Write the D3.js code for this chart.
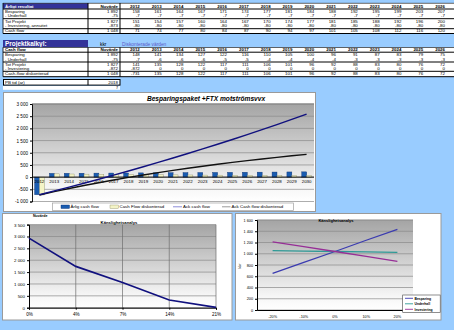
<!DOCTYPE html>
<html><head><meta charset="utf-8">
<script src="https://cdn.jsdelivr.net/npm/d3@7"></script>
<style>
html,body{margin:0;padding:0;background:#99CCFF;}
svg{display:block;font-family:"Liberation Sans",Arial,sans-serif;}
</style></head><body>
<svg id="c" width="454" height="330"></svg>
<script>
// ---------- Tables ----------
const tableYears = ["2012","2013","2014","2015","2016","2017","2018","2019","2020","2021","2022","2023","2024","2025","2026"];

const t1Labels = ["Besparing", "- Underhåll", "Tot Projekt", "- Investering, annuitet", "Cash flow"];
const t1Totals = ["1 892", "-75", "1 827", "-873", "1 048"];
const t1Besparing = [158,161,164,167,171,174,177,181,184,188,192,195,199,203,207];
const t1Underhall = [-7,-7,-7,-7,-7,-7,-7,-7,-7,-7,-7,-7,-7,-7,-7];
const t1TotProjekt = [151,154,157,160,164,167,170,174,177,181,185,188,192,196,200];
const t1Annuitet = [-80,-80,-80,-80,-80,-80,-80,-80,-80,-80,-80,-80,-80,-80,-80];
const t1CashFlow = [71,74,77,80,84,87,90,94,97,101,105,108,112,116,120];

const t2Labels = ["Besparing", "- Underhåll", "Tot Projekt", "- Investering", "Cash-flow diskonterad"];
const t2Totals = ["1 892", "-75", "1 827", "-872", "1 048"];
const t2Besparing = [148,141,134,127,122,116,110,105,100,96,91,87,83,79,75];
const t2Underhall = [-7,-6,-6,-6,-5,-5,-4,-4,-4,-4,-3,-3,-3,-3,-3];
const t2TotProjekt = [141,135,128,122,117,111,106,101,96,92,88,83,80,76,72];
const t2Investering = [-872,0,0,0,0,0,0,0,0,0,0,0,0,0,0];
const t2CashFlowDisk = [-731,135,128,122,117,111,106,101,96,92,88,83,80,76,72];

// ---------- Main chart ----------
const chartYears = ["2012","2013","2014","2015","2016","2017","2018","2019","2020","2021","2022","2023","2024","2025","2026","2027","2028","2029","2030"];
const arligCashFlow = [-721,154,157,160,164,167,170,174,177,181,185,188,192,196,200,204,208,212,216];
const cashFlowDisk = [-731,135,128,122,117,111,106,101,96,92,88,83,80,76,72,69,66,63,60];
const ackCashFlow = [-721,-567,-410,-250,-86,81,251,425,602,783,968,1156,1348,1544,1744,1948,2156,2368,2584];
const ackCashFlowDisk = [-731,-596,-468,-346,-229,-118,-12,89,185,277,365,448,528,604,676,745,811,874,934];
const mainYTicks = [-1000,-500,0,500,1000,1500,2000,2500,3000];

// ---------- Sensitivity: discount rate ----------
const rateLabels = ["0%","4%","7%","14%","21%"];
const npvByRate = [2930,1740,1060,325,15];
const rateYTicks = [0,500,1000,1500,2000,2500,3000,3500];

// ---------- Sensitivity: parameters ----------
const changeLabels = ["-20%","-10%","0%","10%","20%"];
const sensBesparing = [650,845,1040,1240,1435];
const sensUnderhall = [1055,1048,1040,1033,1025];
const sensInvestering = [1210,1125,1040,955,865];
const sensYTicks = [0,200,400,600,800,1000,1200,1400,1600];
const sensNames = ["Besparing","Underhåll","Investering"];
const sensColors = ["#3B3BB0","#2E9A96","#962E96"];

const fmt = d3.formatLocale({thousands:" ", grouping:[3], decimal:",", currency:["",""], minus:"-"}).format(",d");

const svg = d3.select("#c");
const defs = svg.append("defs");
const grad = defs.append("linearGradient").attr("id","grad").attr("x1",0).attr("y1",0).attr("x2",0).attr("y2",1);
grad.append("stop").attr("offset","0%").attr("stop-color","#A4A4A4");
grad.append("stop").attr("offset","85%").attr("stop-color","#F6F6F6");
grad.append("stop").attr("offset","100%").attr("stop-color","#FFFFFF");

// ===== Table helpers =====
const labelX0 = 3, totX0 = 88, yearX0 = 120, colW = 21.8;
const yearScale = d3.scaleBand().domain(tableYears).range([yearX0, yearX0 + colW * tableYears.length]);
const tfs = 4.4;

function hline(y, x0, x1, w) {
  svg.append("line").attr("x1", x0).attr("x2", x1).attr("y1", y).attr("y2", y)
    .attr("stroke", "#000").attr("stroke-width", w);
}
function vline(x, y0, y1, w) {
  svg.append("line").attr("x1", x).attr("x2", x).attr("y1", y0).attr("y2", y1)
    .attr("stroke", "#000").attr("stroke-width", w);
}
function txt(x, y, s, opts = {}) {
  return svg.append("text").attr("x", x).attr("y", y).text(s)
    .attr("font-size", opts.size || tfs)
    .attr("font-weight", opts.bold ? "bold" : null)
    .attr("font-style", opts.italic ? "italic" : null)
    .attr("text-anchor", opts.anchor || "start")
    .attr("fill", opts.fill || "#000");
}
function drawRows(labels, totals, rows, baselines) {
  rows.forEach((vals, r) => {
    txt(labelX0 + 2, baselines[r], labels[r]);
    txt(yearX0 - 2, baselines[r], totals[r], {anchor: "end"});
    vals.forEach((v, i) => txt(yearScale(tableYears[i]) + colW - 2, baselines[r], fmt(v), {anchor: "end"}));
  });
}

// ===== Table 1 =====
svg.append("rect").attr("x", 3).attr("y", 3).attr("width", 451).attr("height", 30.7).attr("fill", "#fff");
svg.append("rect").attr("x", 3).attr("y", 3.3).attr("width", 85).attr("height", 5.4).attr("fill", "#333399");
txt(5, 7.6, "Årligt resultat", {fill: "#fff", bold: true});
txt(yearX0 - 2, 7.6, "Nuvärde", {anchor: "end", bold: true});
tableYears.forEach(y => txt(yearScale(y) + colW - 2, 7.6, y, {anchor: "end", bold: true}));
hline(3.3, 3, 454, 0.6);
[9, 18.7, 28.7, 33.5].forEach(y => hline(y, 3, 454, 1));
vline(3, 3, 33.5, 0.8); vline(88, 3, 33.5, 1); vline(120, 3, 33.5, 1);
drawRows(t1Labels, t1Totals, [t1Besparing, t1Underhall, t1TotProjekt, t1Annuitet, t1CashFlow], [12.8, 16.8, 22.7, 26.7, 32.1]);

// ===== Table 2 =====
svg.append("rect").attr("x", 3).attr("y", 40).attr("width", 85).attr("height", 7.3).attr("fill", "#333399");
txt(5, 46.2, "Projektkalkyl:", {fill: "#fff", bold: true, size: 6.4});
txt(100, 46, "kkr", {size: 4.8});
txt(122, 46, "Diskonterade värden", {size: 4.8, fill: "#5A5AC8"});
svg.append("rect").attr("x", 3).attr("y", 47.3).attr("width", 451).attr("height", 29.4).attr("fill", "#fff");
txt(5, 51.2, "Cash flow", {bold: true});
txt(yearX0 - 2, 51.2, "Nuvärde", {anchor: "end", bold: true});
tableYears.forEach(y => txt(yearScale(y) + colW - 2, 51.2, y, {anchor: "end", bold: true}));
hline(47.5, 3, 454, 0.6);
[52.2, 62, 71.3, 76.7].forEach(y => hline(y, 3, 454, 1));
vline(3, 47.3, 76.7, 0.8); vline(88, 47.3, 76.7, 1); vline(120, 47.3, 76.7, 1);
drawRows(t2Labels, t2Totals, [t2Besparing, t2Underhall, t2TotProjekt, t2Investering, t2CashFlowDisk], [56.4, 60.6, 66.1, 70.1, 75.2]);

// payback row
svg.append("rect").attr("x", 3.5).attr("y", 79.5).attr("width", 116.5).attr("height", 5.6)
  .attr("fill", "#fff").attr("stroke", "#000").attr("stroke-width", 1);
vline(88, 79.5, 85.1, 1);
txt(5, 83.7, "PB tid (år)");
txt(yearX0 - 2, 83.7, "2018", {anchor: "end"});
svg.append("rect").attr("x", 3).attr("y", 86).attr("width", 117).attr("height", 3.8).attr("fill", "#fff");
txt(yearX0 - 2, 89.4, "7", {anchor: "end", size: 3.8});

// ===== Main chart =====
svg.append("rect").attr("x", 3.5).attr("y", 92.5).attr("width", 312).attr("height", 119)
  .attr("fill", "#fff").attr("stroke", "#9A9A9A").attr("stroke-width", 1);
const mx = d3.scaleBand().domain(chartYears).range([32, 314]);
const my = d3.scaleLinear().domain([-1000, 3000]).range([201.5, 104]);
const sub = d3.scaleBand().domain(["a", "d"]).range([2.6, mx.bandwidth() - 2.4]).padding(0);

svg.append("rect").attr("x", 32).attr("y", my(3000)).attr("width", 282).attr("height", my(-1000) - my(3000)).attr("fill", "url(#grad)");
mainYTicks.forEach(t => svg.append("line").attr("x1", 32).attr("x2", 314).attr("y1", my(t)).attr("y2", my(t))
  .attr("stroke", "#8A8A8A").attr("stroke-width", t === 3000 ? 1.3 : 0.7));

svg.append("text").attr("x", 206).attr("y", 101).attr("text-anchor", "middle")
  .attr("font-size", 6.6).attr("font-weight", "bold").attr("font-style", "italic").text("Besparingspaket +FTX motströmsvvx");

// bars
svg.append("g").selectAll("rect").data(chartYears).join("rect")
  .attr("x", (d) => mx(d) + sub("a")).attr("width", sub.bandwidth())
  .attr("y", (d, i) => my(Math.max(0, arligCashFlow[i])))
  .attr("height", (d, i) => Math.abs(my(arligCashFlow[i]) - my(0)))
  .attr("fill", "#1A5CB0").attr("stroke", "#0B2F70").attr("stroke-width", 0.4);
svg.append("g").selectAll("rect").data(chartYears).join("rect")
  .attr("x", (d) => mx(d) + sub("d")).attr("width", sub.bandwidth())
  .attr("y", (d, i) => my(Math.max(0, cashFlowDisk[i])))
  .attr("height", (d, i) => Math.abs(my(cashFlowDisk[i]) - my(0)))
  .attr("fill", "#F4F4C6").attr("stroke", "#8E8E6C").attr("stroke-width", 0.4);

// category axis along zero
svg.append("line").attr("x1", 32).attr("x2", 314).attr("y1", my(0)).attr("y2", my(0)).attr("stroke", "#000").attr("stroke-width", 0.9);
chartYears.forEach(y => txt(mx(y) + mx.bandwidth() / 2, my(0) + 6.2, y, {anchor: "middle", size: 4.4}));

// value axis
const yAxisMain = svg.append("g").attr("transform", "translate(32,0)")
  .call(d3.axisLeft(my).tickValues(mainYTicks).tickSize(2).tickFormat(fmt));
yAxisMain.selectAll("text").attr("font-size", 4.6).attr("font-family", "Liberation Sans, Arial, sans-serif").attr("x", -4);
yAxisMain.select(".domain").attr("stroke-width", 0.9);

// cumulative lines
const mline = (arr) => d3.line().x((d, i) => mx(chartYears[i]) + mx.bandwidth() / 2).y(d => my(d))(arr);
svg.append("path").attr("d", mline(ackCashFlowDisk)).attr("fill", "none").attr("stroke", "#111").attr("stroke-width", 1.4);
svg.append("path").attr("d", mline(ackCashFlow)).attr("fill", "none").attr("stroke", "#10107E").attr("stroke-width", 1.4);

// legend
svg.append("rect").attr("x", 52.5).attr("y", 203).attr("width", 241).attr("height", 7.5)
  .attr("fill", "#fff").attr("stroke", "#A0A0A0").attr("stroke-width", 0.7);
svg.append("rect").attr("x", 61).attr("y", 205).attr("width", 8.5).attr("height", 3.5).attr("fill", "#1A5CB0").attr("stroke", "#0B2F70").attr("stroke-width", 0.4);
txt(70.5, 208.4, "Årlig cash flow", {size: 4.4});
svg.append("rect").attr("x", 110).attr("y", 205).attr("width", 8.5).attr("height", 3.5).attr("fill", "#F4F4C6").attr("stroke", "#8E8E6C").attr("stroke-width", 0.4);
txt(119.5, 208.4, "Cash Flow diskonterad", {size: 4.4});
svg.append("line").attr("x1", 173).attr("x2", 182).attr("y1", 206.8).attr("y2", 206.8).attr("stroke", "#8C8CD8").attr("stroke-width", 1);
txt(183, 208.4, "Ack cash flow", {size: 4.4});
svg.append("line").attr("x1", 222).attr("x2", 230.5).attr("y1", 206.8).attr("y2", 206.8).attr("stroke", "#9A9A9A").attr("stroke-width", 1);
txt(231.5, 208.4, "Ack Cash flow diskonterad", {size: 4.4});

// ===== Sensitivity chart: discount rate =====
svg.append("rect").attr("x", 2.5).attr("y", 213.5).attr("width", 229.5).attr("height", 106.5)
  .attr("fill", "#fff").attr("stroke", "#9A9A9A").attr("stroke-width", 1);
const rx = d3.scalePoint().domain(rateLabels).range([29, 216]);
const ry = d3.scaleLinear().domain([0, 3500]).range([307.7, 224.6]);
svg.append("rect").attr("x", 29).attr("y", ry(3500)).attr("width", 187).attr("height", ry(0) - ry(3500)).attr("fill", "url(#grad)");
rateYTicks.forEach(t => svg.append("line").attr("x1", 29).attr("x2", 216).attr("y1", ry(t)).attr("y2", ry(t))
  .attr("stroke", "#8A8A8A").attr("stroke-width", 0.7));
rateLabels.slice(1).forEach(r => svg.append("line").attr("x1", rx(r)).attr("x2", rx(r)).attr("y1", ry(3500)).attr("y2", ry(0))
  .attr("stroke", "#6E6E6E").attr("stroke-width", 0.7));
const rAxisY = svg.append("g").attr("transform", "translate(29,0)")
  .call(d3.axisLeft(ry).tickValues(rateYTicks).tickSize(2).tickFormat(fmt));
rAxisY.selectAll("text").attr("font-size", 4.4).attr("font-family", "Liberation Sans, Arial, sans-serif").attr("x", -4);
const rAxisX = svg.append("g").attr("transform", `translate(0,${ry(0)})`)
  .call(d3.axisBottom(rx).tickSize(2));
rAxisX.selectAll("text").attr("font-size", 4.6).attr("font-family", "Liberation Sans, Arial, sans-serif").attr("y", 5.5);
svg.append("path").attr("d", d3.line().x((d, i) => rx(rateLabels[i])).y(d => ry(d))(npvByRate))
  .attr("fill", "none").attr("stroke", "#10107E").attr("stroke-width", 1.7);
txt(119, 223.6, "Känslighetsanalys", {anchor: "middle", bold: true, size: 4.2});
txt(33, 216.8, "Nuvärde", {bold: true, size: 3.6});

// ===== Sensitivity chart: parameters =====
svg.append("rect").attr("x", 235.5).attr("y", 213.5).attr("width", 205.5).attr("height", 106.5)
  .attr("fill", "#fff").attr("stroke", "#9A9A9A").attr("stroke-width", 1);
const sx = d3.scaleBand().domain(changeLabels).range([257, 413]);
const sy = d3.scaleLinear().domain([0, 1600]).range([310, 220]);
svg.append("rect").attr("x", 257).attr("y", sy(1600)).attr("width", 156).attr("height", sy(0) - sy(1600)).attr("fill", "url(#grad)");
sensYTicks.forEach(t => svg.append("line").attr("x1", 257).attr("x2", 413).attr("y1", sy(t)).attr("y2", sy(t))
  .attr("stroke", "#8A8A8A").attr("stroke-width", t === 1600 ? 1.2 : 0.7));
const sAxisY = svg.append("g").attr("transform", "translate(257,0)")
  .call(d3.axisLeft(sy).tickValues(sensYTicks).tickSize(2).tickFormat(fmt));
sAxisY.selectAll("text").attr("font-size", 3.8).attr("font-family", "Liberation Sans, Arial, sans-serif").attr("x", -4);
const sAxisX = svg.append("g").attr("transform", `translate(0,${sy(0)})`)
  .call(d3.axisBottom(sx).tickSize(0));
sAxisX.selectAll("text").attr("font-size", 3.8).attr("font-family", "Liberation Sans, Arial, sans-serif").attr("y", 5);
const sline = (arr) => d3.line().x((d, i) => sx(changeLabels[i]) + sx.bandwidth() / 2).y(d => sy(d))(arr);
[sensBesparing, sensUnderhall, sensInvestering].forEach((arr, k) =>
  svg.append("path").attr("d", sline(arr)).attr("fill", "none").attr("stroke", sensColors[k]).attr("stroke-width", 1.3));
txt(336, 222, "Känslighetsanalys", {anchor: "middle", bold: true, size: 4});
svg.append("text").attr("transform", "translate(240.5,266) rotate(-90)").attr("text-anchor", "middle")
  .attr("font-size", 3.8).text("kkr");

// legend
svg.append("rect").attr("x", 402.7).attr("y", 295).attr("width", 37.5).attr("height", 17.3)
  .attr("fill", "#fff").attr("stroke", "#444").attr("stroke-width", 0.6);
sensNames.forEach((n, k) => {
  const yy = 298.3 + k * 5.5;
  svg.append("line").attr("x1", 405).attr("x2", 413).attr("y1", yy).attr("y2", yy).attr("stroke", sensColors[k]).attr("stroke-width", 0.9);
  txt(414.5, yy + 1.2, n, {size: 3.4, bold: true});
});
</script>
</body></html>
